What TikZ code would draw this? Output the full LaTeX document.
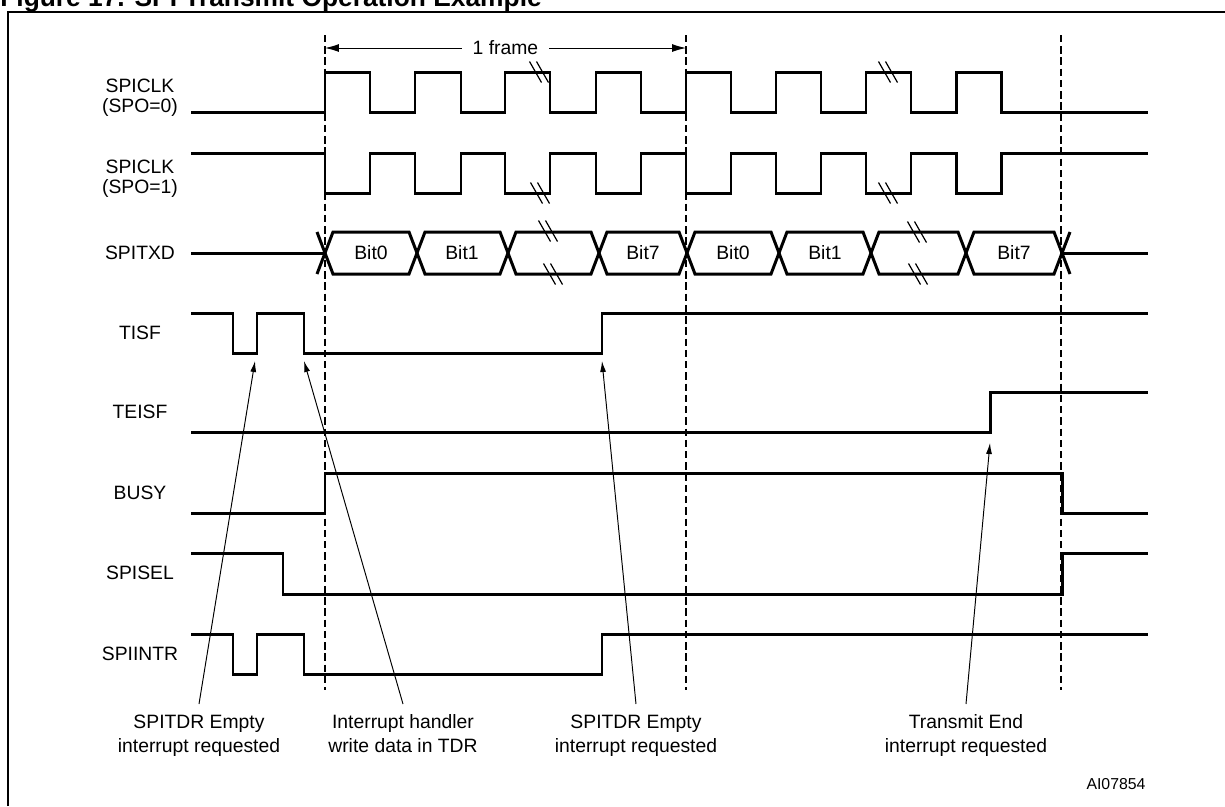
\documentclass[tikz,border=0pt]{standalone}
\usepackage{fontspec}
\setmainfont{Liberation Sans}
\usetikzlibrary{arrows.meta}

\tikzset{
  wave/.style={line width=1.7pt},
  guide/.style={line width=0.6pt,dash pattern=on 4.2pt off 2.2pt},
  sig/.style={align=center,inner sep=0pt},
  note/.style={font=\fontsize{11}{13.6}\selectfont,align=center,anchor=north,inner xsep=2pt,inner ysep=6pt},
  pointer/.style={line width=0.55pt,->},
  pics/brk/.style={code={
      \draw[line width=0.7pt] (-9.5,-10.5) -- (2.5,10.5) (-2.5,-10.5) -- (9.5,10.5);
  }}
}

\begin{document}
\begin{tikzpicture}[x=0.02cm,y=-0.02cm,>={Latex[length=2.2mm,width=1.2mm]},
    font=\fontsize{11}{11.4}\selectfont]
    \useasboundingbox (0,0) rectangle (1225,806);

    \node[anchor=base west,inner sep=0pt,font=\fontsize{15}{15}\selectfont\bfseries]
        (title) at (0,6) {Figure 17. SPI Transmit Operation Example};
    \draw[line width=0.8pt] (8,806) -- (8,12) -- (1225,12);

    \draw[guide] (325,35) -- (325,690);
    \draw[guide] (686,35) -- (686,690);
    \draw[guide] (1061,35) -- (1061,690);

    \coordinate (fs) at (325,48);
    \coordinate (fe) at (686,48);
    \draw[<->,>={Latex[length=2.8mm,width=1.6mm]},line width=0.55pt] (fs) -- (fe)
        node[midway,fill=white,inner xsep=6pt] (frame) {1 frame};

    \node[sig] (clkA) at (140,98) {SPICLK\\(SPO=0)};
    \node[sig] (clkB) at (140,179) {SPICLK\\(SPO=1)};
    \node[sig] (txd) at (140,253) {SPITXD};
    \node[sig] (tisf) at (140,333) {TISF};
    \node[sig] (teisf) at (140,412) {TEISF};
    \node[sig] (busy) at (140,493) {BUSY};
    \node[sig] (sel) at (140,573) {SPISEL};
    \node[sig] (intr) at (140,654) {SPIINTR};

    \draw[wave] (191,112) -| (325,72) -| (370,112) -| (415,72) -| (461,112)
        -| (505,72) -| (550,112) -| (596,72) -| (641,112) -| (686,72)
        -| (731,112) -| (776,72) -| (821,112) -| (866,72) -| (911,112)
        -| (956,72) -| (1001,112) -- (1148,112);
    \draw[wave] (191,153) -| (325,193) -| (370,153) -| (415,193) -| (461,153)
        -| (505,193) -| (550,153) -| (596,193) -| (641,153) -| (686,193)
        -| (731,153) -| (776,193) -| (821,153) -| (866,193) -| (911,153)
        -| (956,193) -| (1001,153) -- (1148,153);
    \pic at (539,72) {brk};
    \pic at (888,72) {brk};
    \pic at (540,193) {brk};
    \pic at (888,193) {brk};

    \draw[wave] (191,253) -- (325,253);
    \draw[wave] (317,232) -- (333,274) -- (409,274) -- (425,232) -- (500,232)
        -- (516,274) -- (591,274) -- (607,232) -- (679,232) -- (695,274)
        -- (771,274) -- (787,232) -- (863,232) -- (879,274) -- (958,274)
        -- (974,232) -- (1054,232) -- (1070,274);
    \draw[wave] (317,274) -- (333,232) -- (409,232) -- (425,274) -- (500,274)
        -- (516,232) -- (591,232) -- (607,274) -- (679,274) -- (695,232)
        -- (771,232) -- (787,274) -- (863,274) -- (879,232) -- (958,232)
        -- (974,274) -- (1054,274) -- (1070,232);
    \draw[wave] (1062,253) -- (1148,253);
    \pic at (548,231) {brk};
    \pic at (553,274) {brk};
    \pic at (917,232) {brk};
    \pic at (918,274) {brk};
    \node (bitA0) at (371,253) {Bit0};
    \node (bitA1) at (462,253) {Bit1};
    \node (bitA7) at (643,253) {Bit7};
    \node (bitB0) at (733,253) {Bit0};
    \node (bitB1) at (825,253) {Bit1};
    \node (bitB7) at (1014,253) {Bit7};

    \draw[wave] (191,313) -| (233,353) -| (257,313) -| (304,353) -| (602,313)
        -- (1148,313);
    \draw[wave] (191,432) -| (990,392) -- (1148,392);
    \draw[wave] (191,513) -| (325,473) -| (1062,513) -- (1148,513);
    \draw[wave] (191,553) -| (283,594) -| (1062,553) -- (1148,553);
    \draw[wave] (191,634) -| (233,674) -| (257,634) -| (304,674) -| (602,634)
        -- (1148,634);

    \node[note] (empA) at (199,704) {SPITDR Empty\\interrupt requested};
    \node[note] (hdl) at (403,704) {Interrupt handler\\write data in TDR};
    \node[note] (empB) at (636,704) {SPITDR Empty\\interrupt requested};
    \node[note] (tend) at (966,704) {Transmit End\\interrupt requested};
    \coordinate (tipA) at (255,361);
    \coordinate (tipB) at (304,361);
    \coordinate (tipC) at (602,361);
    \coordinate (tipD) at (990,443);
    \draw[pointer] (empA.north) -- (tipA);
    \draw[pointer] (hdl.north) -- (tipB);
    \draw[pointer] (empB.north) -- (tipC);
    \draw[pointer] (tend.north) -- (tipD);

    \node[font=\fontsize{9}{9}\selectfont] (code) at (1116,784) {AI07854};
\end{tikzpicture}
\end{document}
